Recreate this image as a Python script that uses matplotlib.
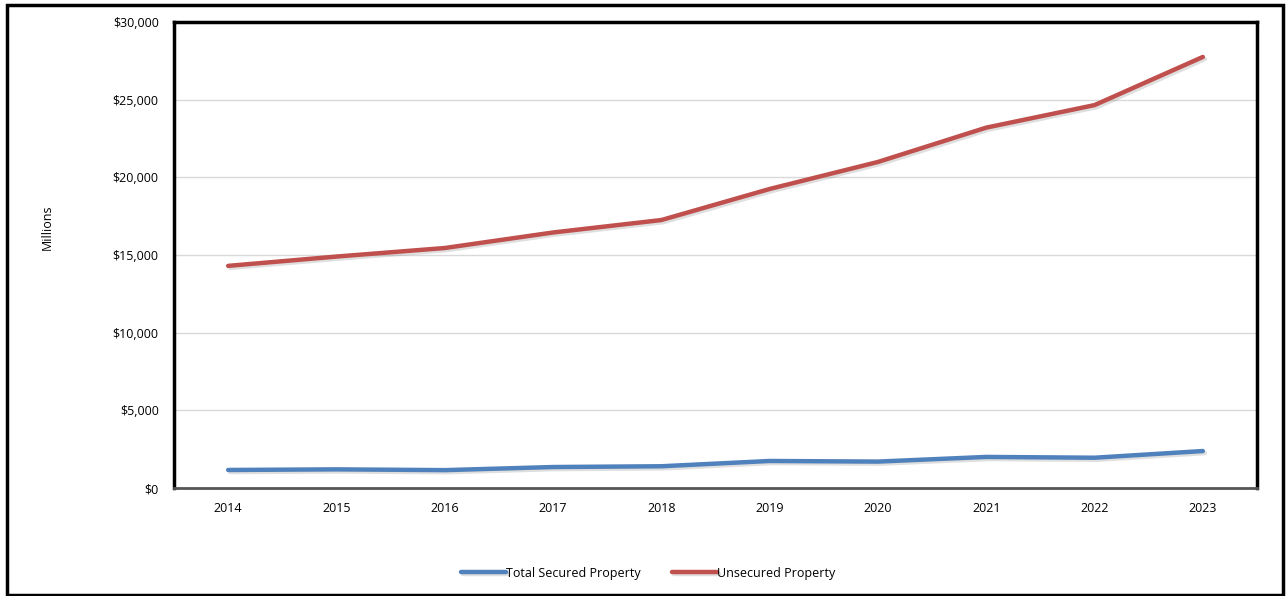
import matplotlib
matplotlib.use("Agg")
import matplotlib.pyplot as plt
import matplotlib.patheffects as pe
from matplotlib.patches import Rectangle
from matplotlib.ticker import FuncFormatter, MultipleLocator

years = ["2014", "2015", "2016", "2017", "2018", "2019", "2020", "2021", "2022", "2023"]
secured = [1160, 1200, 1150, 1350, 1400, 1740, 1700, 2000, 1950, 2380]
unsecured = [14300, 14900, 15450, 16450, 17250, 19250, 20990, 23200, 24650, 27750]

plt.rcParams['font.family'] = ['Open Sans', 'DejaVu Sans']

W, H = 1288, 596
fig = plt.figure(figsize=(W / 100, H / 100), dpi=100)
ax = fig.add_axes([174 / W, 1 - 488 / H, (1257 - 174) / W, (488 - 22) / H])

x = list(range(len(years)))
shadow = [pe.SimpleLineShadow(offset=(1.5, -1.5), shadow_color='gray', alpha=0.25), pe.Normal()]
ax.plot(x, secured, color='#4F81BD', lw=3.2, solid_capstyle='round', label='Total Secured Property',
        path_effects=shadow, zorder=3)
ax.plot(x, unsecured, color='#C0504D', lw=3.2, solid_capstyle='round', label='Unsecured Property',
        path_effects=shadow, zorder=3)

ax.set_xlim(-0.5, len(years) - 0.5)
ax.set_ylim(0, 30000)
ax.set_xticks(x)
ax.set_xticklabels(years)
ax.yaxis.set_major_locator(MultipleLocator(5000))
ax.yaxis.set_major_formatter(FuncFormatter(lambda v, p: f"${v:,.0f}"))
ax.tick_params(axis='both', length=0, labelsize=9, colors='black')
ax.tick_params(axis='x', pad=10)
ax.tick_params(axis='y', pad=11)
ax.grid(axis='y', color='#D9D9D9', lw=1)
ax.set_axisbelow(True)
for s in ['left', 'top', 'right']:
    ax.spines[s].set_color('black')
    ax.spines[s].set_linewidth(2.5)
ax.spines['bottom'].set_color('#555555')
ax.spines['bottom'].set_linewidth(2)

fig.text(47 / W, 1 - 227 / H, 'Millions', rotation=90, ha='center', va='center', fontsize=9)

leg = fig.legend(loc='center', bbox_to_anchor=(648 / W, 1 - 573 / H), ncol=2, frameon=False,
                 fontsize=9, handlelength=3.6, handletextpad=0.0, columnspacing=2.5)

fig.patches.append(Rectangle((7 / W, 1 / H), (1283 - 7) / W, (590) / H, transform=fig.transFigure,
                             fill=False, edgecolor='black', lw=2.5))

fig.savefig('out.png', dpi=100, facecolor='white')
